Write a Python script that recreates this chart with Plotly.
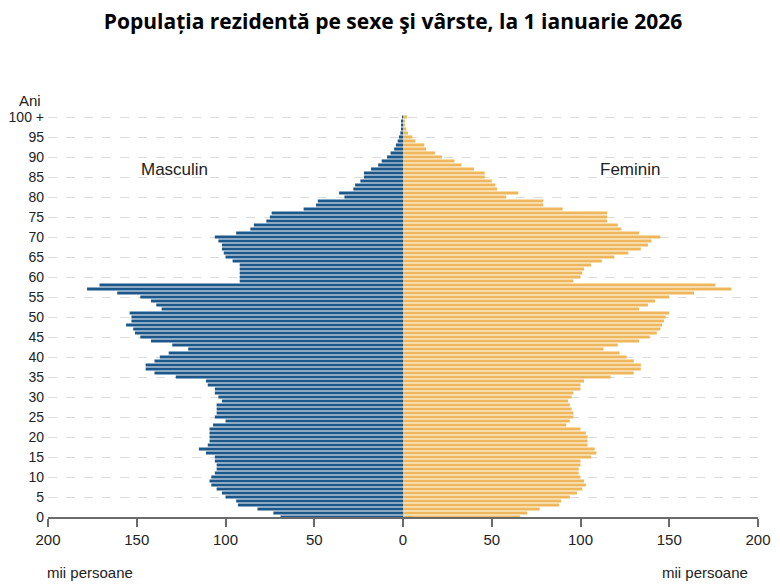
import plotly.graph_objects as go

# varste 0 .. 100+
ages = list(range(101))

# mii persoane
masculin = [69, 73, 82, 93, 94, 100, 102, 105, 108, 109,
            108, 106, 105, 105, 106, 106, 111, 115, 110, 109,
            109, 109, 109, 107, 100, 106, 105, 105, 105, 102,
            104, 106, 106, 110, 111, 128, 140, 145, 145, 140,
            137, 132, 121, 130, 142, 148, 151, 152, 156, 153,
            153, 154, 136, 139, 142, 148, 161, 178, 171, 92,
            92, 92, 92, 92, 96, 100, 101, 102, 102, 104,
            106, 94, 86, 84, 77, 75, 74, 56, 49, 48,
            33, 36, 28, 27, 24, 22, 22, 18, 14, 12,
            9, 7, 5, 4, 3, 2.3, 1.5, 1.1, 0.8, 0.6,
            0.5]

feminin = [66, 70, 77, 88, 89, 94, 98, 101, 103, 102,
           100, 99, 99, 100, 100, 106, 109, 108, 104, 104,
           104, 103, 100, 92, 94, 96, 96, 95, 94, 93,
           95, 96, 100, 100, 102, 117, 130, 134, 134, 130,
           126, 122, 113, 121, 133, 139, 143, 145, 146, 147,
           148, 150, 133, 138, 142, 150, 164, 185, 176, 96,
           100, 101, 102, 106, 112, 119, 127, 134, 138, 140,
           145, 133, 123, 121, 115, 115, 115, 90, 79, 79,
           58, 65, 53, 52, 50, 46, 46, 40, 33, 29,
           22, 18, 13, 12, 7, 5.3, 2.8, 1.9, 1.1, 0.9,
           2.2]

x_ticks = [-200, -150, -100, -50, 0, 50, 100, 150, 200]
x_labels = ['200', '150', '100', '50', '0', '50', '100', '150', '200']
y_ticks = list(range(0, 101, 5))
y_labels = [str(v) for v in range(0, 100, 5)] + ['100 +']

BLUE = '#1b5788'
GOLD = '#efb75b'
FONT = 'Liberation Sans'

fig = go.Figure()

fig.add_trace(go.Bar(
    y=ages, x=[-v for v in masculin], orientation='h',
    name='Masculin', marker=dict(color=BLUE, line=dict(width=0))
))
fig.add_trace(go.Bar(
    y=ages, x=feminin, orientation='h',
    name='Feminin', marker=dict(color=GOLD, line=dict(width=0))
))

# pagina are 8px margine in browser, deci marginile sunt compensate
fig.update_layout(
    width=780, height=585,
    barmode='relative', bargap=0.22,
    showlegend=False,
    plot_bgcolor='white', paper_bgcolor='white',
    margin=dict(l=40, r=30, t=105, b=76),
    font=dict(family=FONT, size=15, color='#222222'),
    title=dict(
        text='<b>Populația rezidentă pe sexe şi vârste, la 1 ianuarie 2026</b>',
        x=0.4936, xanchor='center', y=0.977, yanchor='middle',
        font=dict(family='Open Sans', size=21, color='black')
    ),
    xaxis=dict(
        range=[-200, 200], tickvals=x_ticks, ticktext=x_labels,
        showgrid=False, zeroline=False, automargin=False,
        showline=True, linecolor='#6b6b6b', linewidth=2,
        ticks='outside', ticklen=8, tickwidth=2, tickcolor='#6b6b6b',
        tickfont=dict(size=15)
    ),
    yaxis=dict(
        range=[0, 101], tickvals=y_ticks, ticktext=y_labels,
        showgrid=True, gridcolor='#dcdcdc', griddash='dash', gridwidth=1,
        zeroline=False, showline=False, ticks='', automargin=False,
        ticklabelstandoff=3, tickfont=dict(size=14)
    ),
)

# etichete in afara zonei de desen -> coordonate paper
fig.add_annotation(text='Ani', xref='paper', x=-0.007, xanchor='right',
                   yref='paper', y=1.032, yanchor='middle',
                   showarrow=False, font=dict(size=15))
fig.add_annotation(text='mii persoane', xref='paper', x=-0.004, xanchor='left',
                   yref='paper', y=-0.1386, yanchor='middle',
                   showarrow=False, font=dict(size=15))
fig.add_annotation(text='mii persoane', xref='paper', x=0.9887, xanchor='right',
                   yref='paper', y=-0.1386, yanchor='middle',
                   showarrow=False, font=dict(size=15))

fig.add_annotation(text='Masculin', x=-128.6, y=86.8, showarrow=False,
                   font=dict(size=17))
fig.add_annotation(text='Feminin', x=127.7, y=86.8, showarrow=False,
                   font=dict(size=17))

fig.write_html('out.html')
